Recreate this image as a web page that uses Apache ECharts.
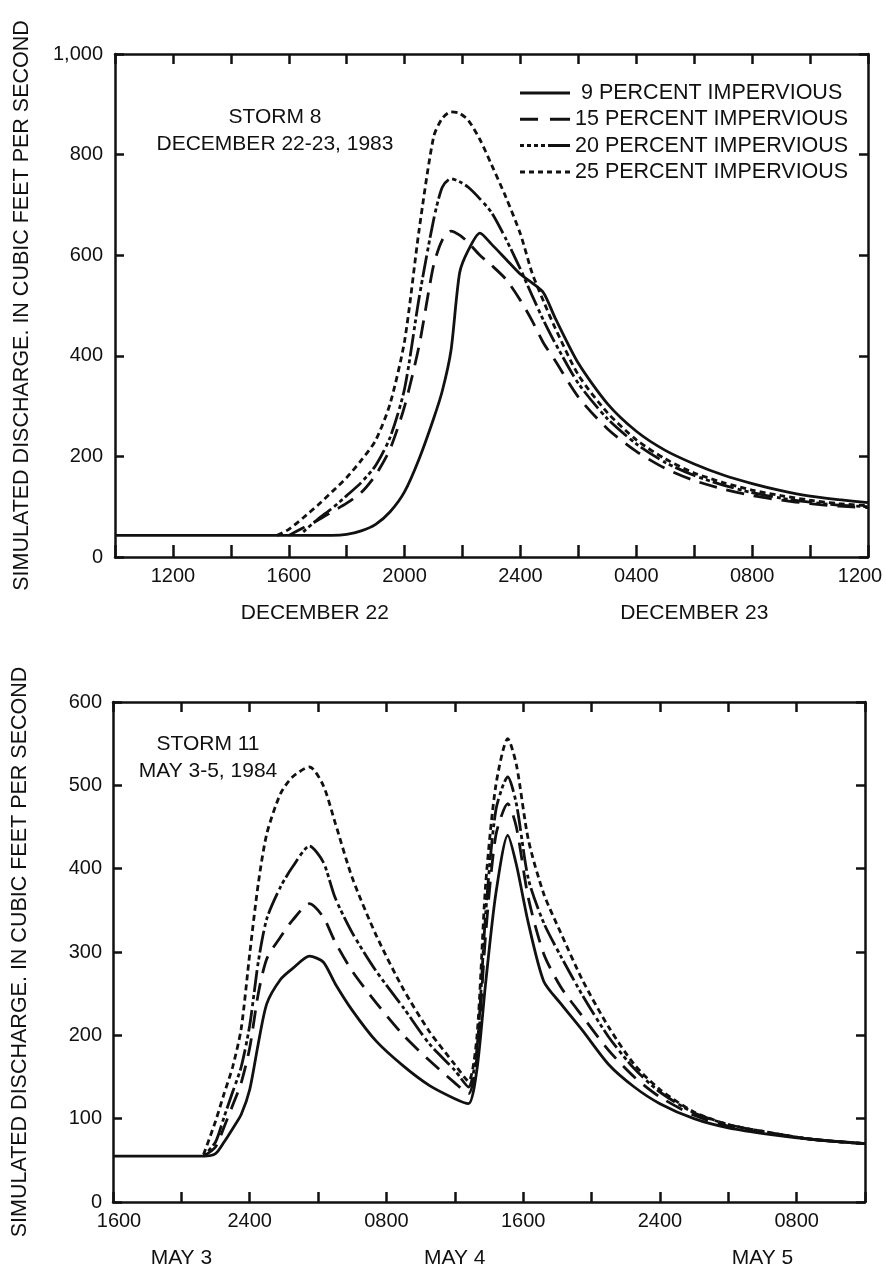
<!DOCTYPE html>
<html><head><meta charset="utf-8">
<script src="https://cdn.jsdelivr.net/npm/echarts@6/dist/echarts.min.js"></script>
<style>html,body{margin:0;padding:0;background:#fff}#c{width:886px;height:1271px}</style>
</head><body><div id="c"></div>
<script>
// ---------------- DATA ----------------
const seriesNames = ['9 PERCENT IMPERVIOUS', '15 PERCENT IMPERVIOUS', '20 PERCENT IMPERVIOUS', '25 PERCENT IMPERVIOUS'];

// Storm 8: hours after 1000, December 22, 1983
const s8Hours = [0, 5.6, 6, 6.5, 7, 7.5, 8, 8.5, 9, 9.5, 10, 10.5, 11, 11.3, 11.6, 11.9, 12.2, 12.6, 13, 13.5, 14, 14.4, 14.8, 15.2, 16, 17, 18, 19, 20, 21, 22, 23, 24, 25, 26];
const s8Imp9  = [43, 43, 43, 43, 43, 43, 45, 52, 65, 90, 130, 195, 275, 330, 410, 565, 610, 644, 622, 592, 562, 545, 525, 475, 385, 305, 250, 212, 185, 163, 146, 132, 121, 114, 108];
const s8Imp15 = [null, null, 43, 58, 73, 90, 107, 128, 163, 215, 300, 420, 580, 630, 648, 640, 625, 600, 580, 552, 510, 470, 425, 390, 318, 255, 210, 176, 152, 135, 122, 113, 106, 101, 98];
const s8Imp20 = [null, null, null, 50, 75, 97, 122, 148, 182, 238, 335, 515, 670, 735, 752, 746, 735, 712, 685, 632, 572, 520, 470, 425, 345, 275, 225, 188, 162, 143, 128, 117, 109, 103, 100];
const s8Imp25 = [null, 43, 55, 78, 103, 130, 158, 192, 232, 305, 430, 650, 835, 872, 885, 882, 868, 830, 780, 715, 642, 565, 508, 455, 362, 287, 233, 195, 167, 148, 133, 122, 113, 106, 102];
const s8TickHours = [2, 6, 10, 14, 18, 22, 26];
const s8TickLabels = ['1200', '1600', '2000', '2400', '0400', '0800', '1200'];
const s8DayHours = [6.9, 20];
const s8DayLabels = ['DECEMBER 22', 'DECEMBER 23'];

// Storm 11: hours after 1600, May 3, 1984
const s11Hours = [0, 5.3, 6, 6.5, 7, 7.5, 8, 8.5, 9, 9.8, 10.5, 11.5, 12.3, 13, 14, 15.4, 17, 18.5, 20, 20.8, 21.3, 21.8, 22.4, 23.1, 23.6, 24.3, 25.2, 26.2, 27.5, 29, 30.5, 32, 34, 36, 38.5, 41, 44];
const s11Imp9  = [55, 55, 58, 72, 88, 105, 135, 190, 238, 267, 280, 295, 288, 262, 230, 193, 163, 140, 124, 118, 160, 262, 370, 440, 405, 335, 265, 238, 205, 165, 138, 118, 100, 89, 81, 75, 70];
const s11Imp15 = [null, 55, 66, 90, 116, 143, 185, 250, 292, 318, 338, 358, 342, 312, 277, 239, 200, 170, 143, 130, 175, 320, 440, 478, 450, 365, 298, 258, 222, 182, 150, 126, 104, 91, 82, 75, 70];
const s11Imp20 = [null, 55, 72, 102, 132, 162, 212, 288, 340, 378, 402, 427, 408, 365, 323, 277, 233, 190, 158, 138, 185, 345, 470, 510, 478, 388, 335, 295, 247, 198, 160, 132, 107, 93, 83, 75, 70];
const s11Imp25 = [null, 57, 97, 130, 162, 208, 298, 382, 442, 490, 510, 522, 500, 455, 389, 320, 255, 205, 165, 145, 200, 380, 500, 556, 525, 435, 370, 323, 265, 210, 165, 135, 108, 93, 83, 75, 70];
const s11TickHours = [0, 8, 16, 24, 32, 40];
const s11TickLabels = ['1600', '2400', '0800', '1600', '2400', '0800'];
const s11DayHours = [4, 20, 38];
const s11DayLabels = ['MAY 3', 'MAY 4', 'MAY 5'];

const yTitle = 'SIMULATED DISCHARGE. IN CUBIC FEET PER SECOND';

// ---------------- STYLE ----------------
const FONT = '"Liberation Sans", Arial, Helvetica, sans-serif';
const INK = '#111';
const dashTypes = ['solid', [18, 10], [4, 3, 4, 3, 22, 4], [6, 4]];
// legend key glyphs (50 x 3 box), drawn as filled dash pieces
const legendIcons = [
  'path://M0,0h50v3h-50z',
  'path://M0,0h18v3h-18zM30,0h20v3h-20z',
  'path://M0,0h4v3h-4zM7,0h4v3h-4zM14,0h4v3h-4zM21,0h4v3h-4zM28,0h22v3h-22z',
  'path://M0,0h5v3h-5zM9,0h5v3h-5zM18,0h5v3h-5zM27,0h5v3h-5zM36,0h5v3h-5zM45,0h5v3h-5z'
];

function pairs(hours, vals) {
  const out = [];
  hours.forEach((h, i) => { if (vals[i] != null) out.push([h, vals[i]]); });
  return out;
}
function lookup(vals, texts, max) {
  return v => {
    const i = vals.findIndex(x => Math.abs(x - v) < 1e-6);
    if (i < 0) return '';
    if (v === 0) return '{first|' + texts[i] + '}';
    if (Math.abs(v - max) < 1e-6) return '{last|' + texts[i] + '}';
    return texts[i];
  };
}
const axLine = { show: true, onZero: false, lineStyle: { color: INK, width: 2.5 } };

function xAxes(g, max, tickInt, tickLen, labVals, labTexts, dayVals, dayTexts, dayOffset) {
  return [
    { gridIndex: g, type: 'value', position: 'bottom', min: 0, max: max, interval: tickInt,
      axisLine: axLine,
      axisTick: { show: true, inside: true, length: tickLen, lineStyle: { color: INK, width: 2.5 } },
      axisLabel: { show: true, margin: 9, color: INK, fontSize: 20, fontFamily: FONT,
        showMinLabel: true, showMaxLabel: true, hideOverlap: false,
        formatter: lookup(labVals, labTexts, max),
        rich: {
          first: { fontSize: 20, fontFamily: FONT, color: INK, padding: [0, 0, 0, 12] },
          last: { fontSize: 20, fontFamily: FONT, color: INK, padding: [0, 16, 0, 0] }
        } },
      splitLine: { show: false } },
    { gridIndex: g, type: 'value', position: 'top', min: 0, max: max, interval: tickInt,
      axisLine: axLine,
      axisTick: { show: true, inside: true, length: 10, lineStyle: { color: INK, width: 2.5 } },
      axisLabel: { show: false }, splitLine: { show: false } },
    { gridIndex: g, type: 'value', position: 'bottom', offset: dayOffset, min: 0, max: max,
      axisLine: { show: false }, axisTick: { show: false },
      axisLabel: { show: true, margin: 9, color: INK, fontSize: 21, fontFamily: FONT,
        customValues: dayVals, formatter: v => { const i = dayVals.findIndex(x => Math.abs(x - v) < 1e-6); return i < 0 ? '' : dayTexts[i]; } },
      splitLine: { show: false } }
  ];
}
function yAxes(g, max, interval, margin) {
  return [
    { gridIndex: g, type: 'value', position: 'left', min: 0, max: max, interval: interval,
      axisLine: axLine,
      axisTick: { show: true, inside: true, length: 9, lineStyle: { color: INK, width: 2.5 } },
      axisLabel: { show: true, margin: margin, color: INK, fontSize: 20, fontFamily: FONT,
        formatter: v => v.toLocaleString('en-US') },
      name: yTitle, nameLocation: 'middle', nameGap: 82, nameRotate: 90,
      nameTextStyle: { color: INK, fontSize: 21.5, fontFamily: FONT },
      splitLine: { show: false } },
    { gridIndex: g, type: 'value', position: 'right', min: 0, max: max, interval: interval,
      axisLine: axLine,
      axisTick: { show: true, inside: true, length: 9, lineStyle: { color: INK, width: 2.5 } },
      axisLabel: { show: false }, splitLine: { show: false } }
  ];
}
function mkSeries(xi, yi, hours, arrays) {
  return arrays.map((vals, k) => ({
    type: 'line', name: seriesNames[k], xAxisIndex: xi, yAxisIndex: yi,
    data: pairs(hours, vals), showSymbol: false, symbol: 'none',
    smooth: 0.25, silent: true, animation: false,
    lineStyle: { color: INK, width: 2.8, type: dashTypes[k], cap: 'butt' },
    itemStyle: { color: INK },
    emphasis: { disabled: true }
  }));
}

const chart = echarts.init(document.getElementById('c'), null, { renderer: 'canvas' });
chart.setOption({
  backgroundColor: '#fff',
  animation: false,
  grid: [
    { left: 115, top: 54, width: 753, height: 503, containLabel: false, outerBoundsMode: 'none' },
    { left: 113, top: 702, width: 752, height: 500, containLabel: false, outerBoundsMode: 'none' }
  ],
  xAxis: [].concat(
    xAxes(0, 26, 2, 12, s8TickHours, s8TickLabels, s8DayHours, s8DayLabels, 37),
    xAxes(1, 44, 4, 10, s11TickHours, s11TickLabels, s11DayHours, s11DayLabels, 37)
  ),
  yAxis: [].concat(yAxes(0, 1000, 200, 12), yAxes(1, 600, 100, 11)),
  legend: {
    data: seriesNames.map((n, k) => ({ name: n, icon: legendIcons[k] })),
    orient: 'vertical', left: 515, top: 77,
    itemWidth: 50, itemHeight: 3, itemGap: 4.3, selectedMode: false,
    itemStyle: { color: INK, borderWidth: 0 },
    textStyle: { fontSize: 21.5, fontFamily: FONT, color: INK, lineHeight: 21 },
    formatter: n => n.startsWith('9 ') ? '\u00a0' + n : n
  },
  graphic: [
    { type: 'text', x: 275, y: 117, style: { text: 'STORM 8', align: 'center', verticalAlign: 'middle', fontSize: 21, fontFamily: FONT, fill: INK } },
    { type: 'text', x: 275, y: 144, style: { text: 'DECEMBER 22-23, 1983', align: 'center', verticalAlign: 'middle', fontSize: 21, fontFamily: FONT, fill: INK } },
    { type: 'text', x: 208, y: 744, style: { text: 'STORM 11', align: 'center', verticalAlign: 'middle', fontSize: 21, fontFamily: FONT, fill: INK } },
    { type: 'text', x: 208, y: 771, style: { text: 'MAY 3-5, 1984', align: 'center', verticalAlign: 'middle', fontSize: 21, fontFamily: FONT, fill: INK } }
  ],
  series: [].concat(
    mkSeries(0, 0, s8Hours, [s8Imp9, s8Imp15, s8Imp20, s8Imp25]),
    mkSeries(3, 2, s11Hours, [s11Imp9, s11Imp15, s11Imp20, s11Imp25])
  )
});
</script>
</body></html>
